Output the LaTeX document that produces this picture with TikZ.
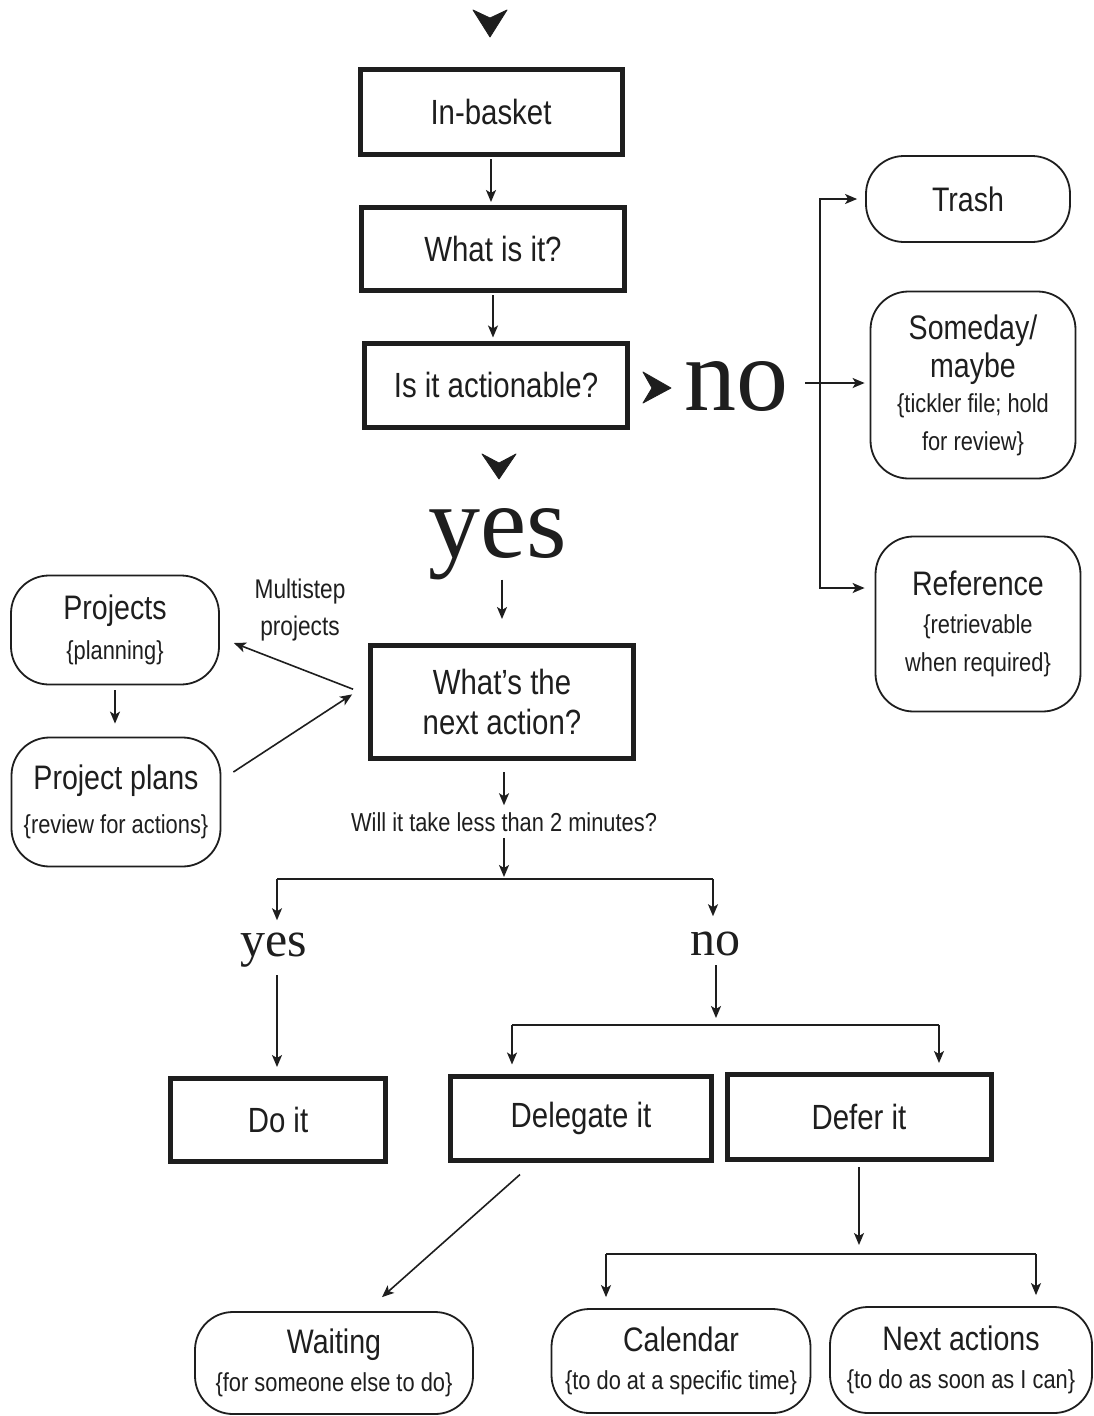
\documentclass[tikz,border=0pt]{standalone}
\usepackage{fontspec}
\newfontfamily\condsans{Liberation Sans}[FakeStretch=0.84]
\newfontfamily\bigserif{Liberation Serif}
\usetikzlibrary{arrows.meta,calc}
\newcommand\subfnt{\fontsize{26}{36}\selectfont}
\definecolor{ink}{HTML}{1E1E1E}
\tikzset{
  arr/.style={draw=ink, line width=1.6pt, -{Stealth[length=12pt,width=10pt,inset=3pt]}},
  ln/.style={draw=ink, line width=1.6pt},
  thickbox/.style={draw=ink, text=ink, line width=5pt, inner sep=0pt, align=center,
    font=\condsans\fontsize{35}{40}\selectfont},
  rbox/.style={draw=ink, text=ink, line width=1.8pt, rounded corners=38pt, inner sep=0pt, align=center,
    font=\condsans\fontsize{34}{38}\selectfont},
  serifbig/.style={inner sep=0pt, text=ink, font=\bigserif\fontsize{104}{104}\selectfont},
  serifmid/.style={inner sep=0pt, text=ink, font=\bigserif\fontsize{50}{50}\selectfont},
  smalltext/.style={inner sep=0pt, text=ink, align=center, font=\condsans\fontsize{27}{37}\selectfont},
  chev/.style={fill=ink, draw=ink, line width=0.8pt, line join=round}
}
\begin{document}
\begin{tikzpicture}[x=1pt,y=-1pt]
\useasboundingbox (0,0) rectangle (1094,1416);
\fill[white] (0,0) rectangle (1094,1416);

% main boxes
\node[thickbox, minimum width=262pt, minimum height=85pt] (inb) at (491,112) {In-basket};
\node[thickbox, minimum width=263pt, minimum height=83pt] (what) at (493,249) {What is it?};
\node[thickbox, minimum width=263pt, minimum height=84pt] (act) at (496,385) {Is it actionable?};
\node[thickbox, minimum width=263pt, minimum height=113pt] (nextact) at (502,702) {What’s the\\next action?};
\node[thickbox, minimum width=215pt, minimum height=83pt] (doit) at (278,1120) {Do it};
\node[thickbox, minimum width=261pt, minimum height=84pt] (deleg) at (581,1118) {Delegate it};
\node[thickbox, minimum width=264pt, minimum height=85pt] (defer) at (859,1117) {Defer it};

% rounded boxes
\node[rbox, minimum width=204pt, minimum height=86pt] (trash) at (968,199) {Trash};
\node[rbox, minimum width=205pt, minimum height=187pt] (some) at (973,385)
  {Someday/\\maybe\\[-3pt]\subfnt \{tickler file; hold\\\subfnt for review\}};
\node[rbox, minimum width=205pt, minimum height=175pt] (ref) at (978,624)
  {Reference\\[0pt]\subfnt \{retrievable\\\subfnt when required\}};
\node[rbox, minimum width=208pt, minimum height=109pt] (proj) at (115,630)
  {Projects\\[2pt]\subfnt \{planning\}};
\node[rbox, minimum width=209pt, minimum height=129pt] (plans) at (116,802)
  {Project plans\\[6pt]\subfnt \{review for actions\}};
\node[rbox, minimum width=278pt, minimum height=102pt] (wait) at (334,1363)
  {Waiting\\[0pt]\subfnt \{for someone else to do\}};
\node[rbox, minimum width=259pt, minimum height=104pt] (cal) at (681,1361)
  {Calendar\\[0pt]\subfnt \{to do at a specific time\}};
\node[rbox, minimum width=262pt, minimum height=106pt] (nexta) at (961,1360)
  {Next actions\\[0pt]\subfnt \{to do as soon as I can\}};

% labels
\node[serifbig, anchor=base west] (no1) at (684,410) {no};
\node[serifbig, anchor=base] (yes1) at (498,557) {yes};
\node[serifmid, anchor=base] (yes2) at (274,956) {yes};
\node[serifmid, anchor=base] (no2) at (715,955) {no};
\node[smalltext] (multi) at (300,610) {Multistep\\projects};
\node[inner sep=0pt, text=ink, font=\condsans\fontsize{26}{30}\selectfont] (will) at (504,822) {Will it take less than 2 minutes?};

% chevrons
\fill[chev] (473,10) -- (490,18) -- (507,10) -- (490,37) -- cycle;
\fill[chev] (482,454) -- (499,463) -- (516,454) -- (499,479) -- cycle;
\fill[chev] (643,372) -- (652,388) -- (643,403) -- (671,388) -- cycle;

% connectors top
\draw[arr, shorten <=2pt, shorten >=3pt] (inb.south) -- (inb.south |- what.north);
\draw[arr, shorten <=2pt, shorten >=3pt] (what.south) -- (what.south |- act.north);

% no branch
\coordinate (nsplit) at (820,383);
\draw[arr, shorten <=17pt, shorten >=5pt] (no1.east |- nsplit) -- (nsplit -| some.west);
\draw[arr, shorten >=8pt] (nsplit) |- (trash.west);
\draw[arr, shorten >=10pt] (nsplit) |- ([yshift=36pt]ref.west);

% yes branch
\draw[arr, shorten <=0pt, shorten >=24pt] (nextact.north |- yes1.south) -- (nextact.north);
\draw[arr, shorten <=16pt] ([yshift=7pt]nextact.west) -- ([xshift=14pt,yshift=-13pt]proj.east);
\draw[arr, shorten <=5pt, shorten >=13pt] (proj.south) -- (proj.south |- plans.north);
\draw[arr, shorten >=19pt] ([xshift=12pt,yshift=30pt]plans.east) -- ([yshift=18pt]nextact.west);

% two minutes
\draw[arr, shorten <=11pt, shorten >=7pt] (will.north |- nextact.south) -- (will.north);
\coordinate (hL) at (277,879);
\coordinate (hR) at (713,879);
\draw[arr, shorten <=6pt, shorten >=2pt] (will.south) -- (will.south |- hL);
\draw[ln] (hL) -- (hR);
\draw[arr, shorten >=12pt] (hL) -- (hL |- yes2.north);
\draw[arr, shorten >=15pt] (hR) -- (hR |- no2.north);
\draw[arr, shorten <=8pt, shorten >=9pt] (yes2.south -| hL) -- (doit.north -| hL);

% no -> delegate / defer
\coordinate (h2L) at (512,1025);
\coordinate (h2R) at (939,1025);
\draw[arr, shorten <=10pt, shorten >=7pt] (no2.base -| 716,0) -- (h2L -| 716,0);
\draw[ln] (h2L) -- (h2R);
\draw[arr, shorten >=9pt] (h2L) -- (h2L |- deleg.north);
\draw[arr, shorten >=9pt] (h2R) -- (h2R |- defer.north);

% delegate -> waiting
\draw[arr] ([xshift=-61pt,yshift=-12pt]deleg.south) -- ([xshift=48pt,yshift=14pt]wait.north);

% defer -> calendar / next actions
\coordinate (h3L) at (606,1254);
\coordinate (h3R) at (1036,1254);
\draw[arr, shorten <=5pt, shorten >=9pt] (defer.south) -- (defer.south |- h3L);
\draw[ln] (h3L) -- (h3R);
\draw[arr, shorten >=11pt] (h3L) -- (h3L |- cal.north);
\draw[arr, shorten >=11pt] (h3R) -- (h3R |- nexta.north);
\end{tikzpicture}
\end{document}
